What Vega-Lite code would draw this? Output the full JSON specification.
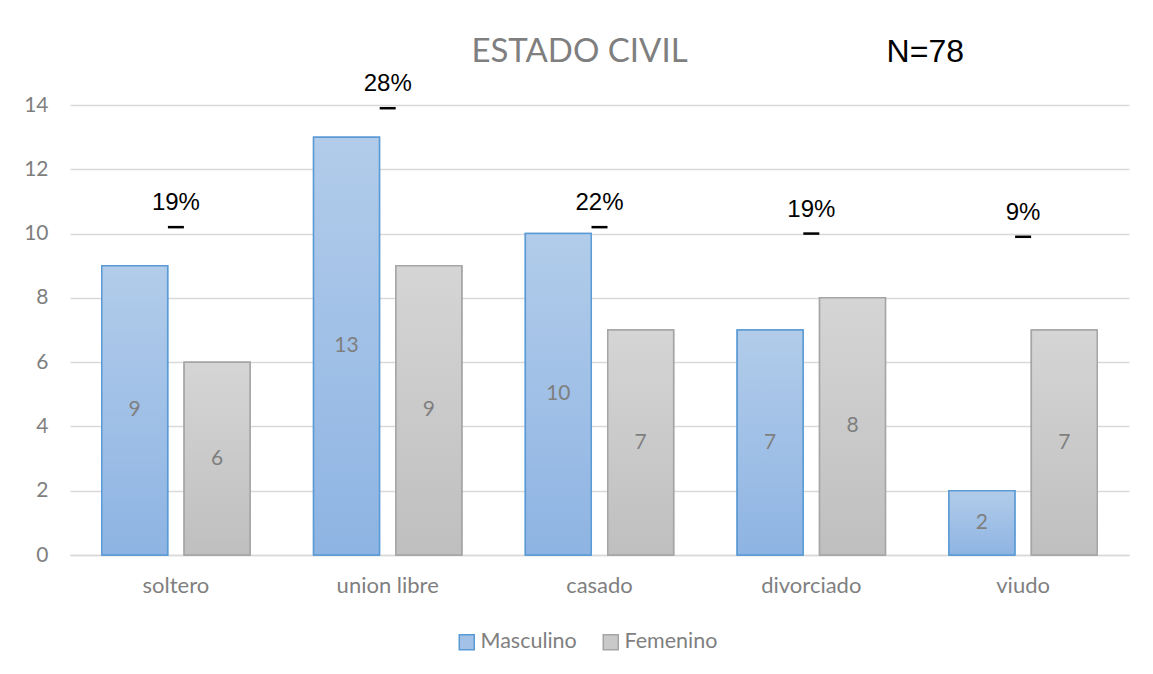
{
  "$schema": "https://vega.github.io/schema/vega-lite/v6.json",
  "width": 1059,
  "height": 450,
  "autosize": {"type": "none"},
  "padding": {"left": 70, "top": 105, "right": 24, "bottom": 119},
  "background": "white",
  "config": {"view": {"stroke": null}, "font": "Lato"},
  "datasets": {
    "bars": [
      {"estado": "soltero", "sexo": "Masculino", "valor": 9},
      {"estado": "soltero", "sexo": "Femenino", "valor": 6},
      {"estado": "union libre", "sexo": "Masculino", "valor": 13},
      {"estado": "union libre", "sexo": "Femenino", "valor": 9},
      {"estado": "casado", "sexo": "Masculino", "valor": 10},
      {"estado": "casado", "sexo": "Femenino", "valor": 7},
      {"estado": "divorciado", "sexo": "Masculino", "valor": 7},
      {"estado": "divorciado", "sexo": "Femenino", "valor": 8},
      {"estado": "viudo", "sexo": "Masculino", "valor": 2},
      {"estado": "viudo", "sexo": "Femenino", "valor": 7}
    ],
    "pct": [
      {"estado": "soltero", "pct": "19%", "marca": 10.2},
      {"estado": "union libre", "pct": "28%", "marca": 13.9},
      {"estado": "casado", "pct": "22%", "marca": 10.2},
      {"estado": "divorciado", "pct": "19%", "marca": 10.0},
      {"estado": "viudo", "pct": "9%", "marca": 9.9}
    ],
    "nota": [{"texto": "N=78"}],
    "titulo": [{"texto": "ESTADO CIVIL"}]
  },
  "resolve": {"scale": {"y": "independent"}},
  "layer": [
    {
      "layer": [
        {
          "data": {"name": "bars"},
          "mark": {"type": "bar", "strokeWidth": 1.5},
          "encoding": {
            "x": {"field": "estado", "type": "nominal", "sort": ["soltero", "union libre", "casado", "divorciado", "viudo"],
                  "scale": {"paddingInner": 0.3, "paddingOuter": 0.15},
                  "axis": {"title": null, "ticks": false, "domain": true, "domainColor": "#D9D9D9", "domainWidth": 1.5, "labelAngle": 0, "labelColor": "#7F7F7F", "labelFontSize": 22, "labelFont": "Lato", "labelPadding": 20, "grid": false}},
            "xOffset": {"field": "sexo", "type": "nominal", "sort": ["Masculino", "Femenino"], "scale": {"domain": ["Masculino", "Femenino"], "paddingInner": 0.2, "paddingOuter": 0}},
            "y": {"field": "valor", "type": "quantitative", "scale": {"domain": [0, 14], "nice": false},
                  "axis": {"title": null, "values": [0, 2, 4, 6, 8, 10, 12, 14], "domain": false, "ticks": false, "gridColor": "#D9D9D9", "gridWidth": 1.5, "labelColor": "#7F7F7F", "labelFontSize": 21, "labelFont": "Lato", "labelPadding": 22}},
            "color": {"field": "sexo", "type": "nominal", "sort": ["Masculino", "Femenino"], "scale": {"domain": ["Masculino", "Femenino"], "range": ["#A3C1E7", "#C9C9C9"]},
                      "legend": {"orient": "none", "legendX": 386, "legendY": 526, "direction": "horizontal", "title": null, "symbolType": "square", "symbolSize": 225, "symbolStrokeWidth": 1.5, "labelFontSize": 21.5, "labelColor": "#7F7F7F", "labelFont": "Lato", "columnPadding": 23, "labelOffset": 3}},
            "stroke": {"field": "sexo", "type": "nominal", "sort": ["Masculino", "Femenino"], "scale": {"domain": ["Masculino", "Femenino"], "range": ["#5B9BD5", "#A5A5A5"]},
                      "legend": {"orient": "none", "legendX": 386, "legendY": 526, "direction": "horizontal", "title": null, "symbolType": "square", "symbolSize": 225, "symbolStrokeWidth": 1.5, "labelFontSize": 21.5, "labelColor": "#7F7F7F", "labelFont": "Lato", "columnPadding": 23, "labelOffset": 3}}
          }
        },
        {
          "data": {"name": "bars"},
          "transform": [{"filter": "datum.sexo === 'Masculino'"}],
          "mark": {"type": "bar", "strokeWidth": 1.5, "stroke": "#5B9BD5",
                   "fill": {"gradient": "linear", "x1": 0, "y1": 0, "x2": 0, "y2": 1, "stops": [{"offset": 0, "color": "#B2CCEA"}, {"offset": 1, "color": "#8EB4E3"}]}},
          "encoding": {
            "x": {"field": "estado", "type": "nominal", "sort": ["soltero", "union libre", "casado", "divorciado", "viudo"]},
            "xOffset": {"field": "sexo", "type": "nominal", "sort": ["Masculino", "Femenino"]},
            "y": {"field": "valor", "type": "quantitative"}
          }
        },
        {
          "data": {"name": "bars"},
          "transform": [{"filter": "datum.sexo === 'Femenino'"}],
          "mark": {"type": "bar", "strokeWidth": 1.5, "stroke": "#A5A5A5",
                   "fill": {"gradient": "linear", "x1": 0, "y1": 0, "x2": 0, "y2": 1, "stops": [{"offset": 0, "color": "#D5D5D5"}, {"offset": 1, "color": "#BFBFBF"}]}},
          "encoding": {
            "x": {"field": "estado", "type": "nominal", "sort": ["soltero", "union libre", "casado", "divorciado", "viudo"]},
            "xOffset": {"field": "sexo", "type": "nominal", "sort": ["Masculino", "Femenino"]},
            "y": {"field": "valor", "type": "quantitative"}
          }
        },
        {
          "data": {"name": "pct"},
          "mark": {"type": "tick", "color": "black", "opacity": 1, "size": 16, "thickness": 2.5, "clip": false},
          "encoding": {
            "x": {"field": "estado", "type": "nominal", "sort": ["soltero", "union libre", "casado", "divorciado", "viudo"]},
            "y": {"field": "marca", "type": "quantitative"}
          }
        },
        {
          "data": {"name": "pct"},
          "mark": {"type": "text", "color": "black", "font": "Liberation Sans", "fontSize": 24, "baseline": "middle", "dy": -24, "clip": false},
          "encoding": {
            "x": {"field": "estado", "type": "nominal", "sort": ["soltero", "union libre", "casado", "divorciado", "viudo"]},
            "y": {"field": "marca", "type": "quantitative"},
            "text": {"field": "pct"}
          }
        },
        {
          "data": {"name": "nota"},
          "mark": {"type": "text", "color": "black", "font": "Liberation Sans", "fontSize": 32, "baseline": "middle", "dx": 114, "clip": false},
          "encoding": {
            "x": {"datum": "divorciado"},
            "y": {"datum": 15.66},
            "text": {"field": "texto"}
          }
        },
        {
          "data": {"name": "titulo"},
          "mark": {"type": "text", "color": "#7F7F7F", "font": "Lato", "fontSize": 33, "fontWeight": "normal", "baseline": "middle", "dx": -20, "clip": false},
          "encoding": {
            "x": {"datum": "casado"},
            "y": {"datum": 15.66},
            "text": {"field": "texto"}
          }
        }
      ]
    },
    {
      "data": {"name": "bars"},
      "mark": {"type": "text", "color": "#7F7F7F", "font": "Lato", "fontSize": 21, "baseline": "middle"},
      "encoding": {
        "x": {"field": "estado", "type": "nominal", "sort": ["soltero", "union libre", "casado", "divorciado", "viudo"]},
        "xOffset": {"field": "sexo", "type": "nominal", "sort": ["Masculino", "Femenino"]},
        "y": {"field": "valor", "type": "quantitative", "scale": {"domain": [0, 28], "nice": false}, "axis": null},
        "text": {"field": "valor"}
      }
    }
  ]
}
